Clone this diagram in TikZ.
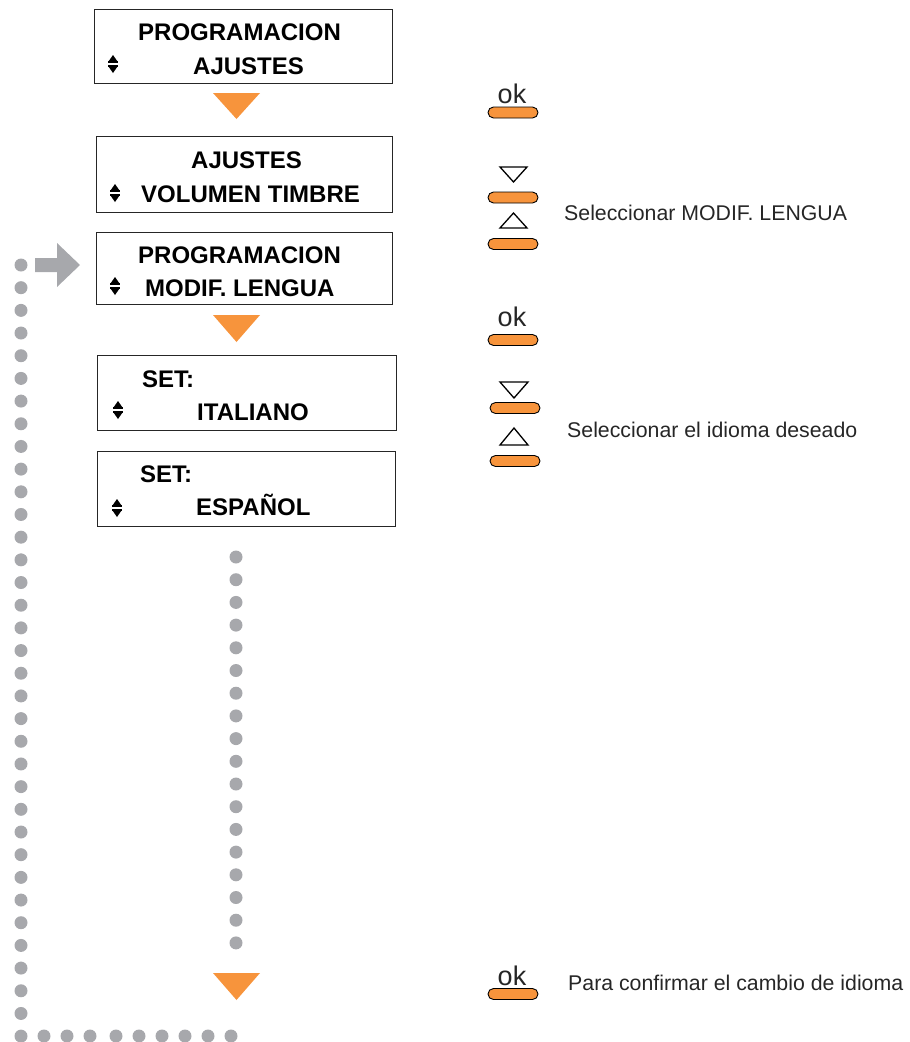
\documentclass[tikz,border=0pt]{standalone}
\usepackage{fontspec}
\setmainfont{Liberation Sans}
\usetikzlibrary{positioning}
\definecolor{keyorange}{RGB}{247,148,60}
\definecolor{dotgray}{RGB}{167,168,172}

\tikzset{
  updown/.pic={
    \fill (-4.6,-2.4) -- (4.6,-2.4) -- (0,-9) -- cycle;
    \fill (-5,-2.6) rectangle (5,-1);
    \fill (-5,1) rectangle (5,2.6);
    \fill (-4.6,2.4) -- (4.6,2.4) -- (0,9) -- cycle;
  }
}

\begin{document}
\begin{tikzpicture}[x=1pt,y=-1pt,
    lcd/.style={draw=black!85, line width=0.9pt, inner sep=0pt},
    lcdtxt/.style={font=\fontsize{24}{28}\selectfont\bfseries, anchor=base west, inner sep=0pt},
    note/.style={font=\fontsize{21.3}{25}\selectfont, anchor=base west, inner sep=0pt, text=black!85},
    oktxt/.style={font=\fontsize{27}{30}\selectfont, anchor=base, inner sep=0pt, text=black!85},
    key/.style={draw=black, line width=0.9pt, fill=keyorange, rounded corners=5.5pt,
                minimum width=50pt, minimum height=11pt, inner sep=0pt},
    arrowkey/.style={draw=black, line width=1.3pt, line join=miter}]
    \useasboundingbox (0,0) rectangle (910,1042);

    % Display screens
    \node[lcd, minimum width=298pt, minimum height=74pt] (prog) at (243,46) {};
    \node[lcd, minimum width=296pt, minimum height=76pt] (ajus) at (244,174) {};
    \node[lcd, minimum width=296pt, minimum height=72pt] (modif) at (244,268) {};
    \node[lcd, minimum width=299pt, minimum height=75pt] (ital) at (246.5,392.5) {};
    \node[lcd, minimum width=298pt, minimum height=75pt] (espa) at (246,488.5) {};

    % Screen texts
    \node[lcdtxt] (progA) at (138,40) {PROGRAMACION};
    \node[lcdtxt] (progB) at (193,74) {AJUSTES};
    \node[lcdtxt] (ajusA) at (191,168) {AJUSTES};
    \node[lcdtxt] (ajusB) at (141,202) {VOLUMEN TIMBRE};
    \node[lcdtxt] (modifA) at (138,263) {PROGRAMACION};
    \node[lcdtxt] (modifB) at (145,296) {MODIF. LENGUA};
    \node[lcdtxt] (italA) at (142,387) {SET:};
    \node[lcdtxt] (italB) at (197,420) {ITALIANO};
    \node[lcdtxt] (espaA) at (140,482) {SET:};
    \node[lcdtxt] (espaB) at (196,515) {ESPAÑOL};

    % Scroll marks
    \pic at (113,64) {updown};
    \pic at (115,193) {updown};
    \pic at (115,286) {updown};
    \pic at (118,410) {updown};
    \pic at (117,508) {updown};

    % Flow arrows
    \fill[keyorange] (213,93) -- (260,93) -- (236.5,119) -- cycle;
    \fill[keyorange] (213,315) -- (260,315) -- (236.5,342) -- cycle;
    \fill[keyorange] (213,973) -- (260,973) -- (236.5,1000) -- cycle;

    % Return path
    \foreach \k in {0,...,17}
        \fill[dotgray] (236,{557+\k*22.7}) circle (6.5);
    \foreach \k in {0,...,34}
        \fill[dotgray] (21,{265+\k*22.68}) circle (6.5);
    \foreach \x in {44,67,90,116,139,162,185,208,231}
        \fill[dotgray] (\x,1036) circle (6.5);
    \fill[dotgray] (35,258) -- (57,258) -- (57,243) -- (80,265) -- (57,287)
        -- (57,272) -- (35,272) -- cycle;

    % Keys: select
    \node[oktxt] (okA) at (512,103) {ok};
    \node[key] (keyA) at (513,112.5) {};
    \draw[arrowkey] (500,167) -- (527,167) -- (513.5,182) -- cycle;
    \node[key] (downA) at (513,197.5) {};
    \draw[arrowkey] (500,228) -- (527,228) -- (513.5,213) -- cycle;
    \node[key] (upA) at (513,244) {};
    \node[note] (selA) at (564,220) {Seleccionar MODIF. LENGUA};

    % Keys: language
    \node[oktxt] (okB) at (512,326) {ok};
    \node[key] (keyB) at (513,340) {};
    \draw[arrowkey] (500,382) -- (528,382) -- (514,398) -- cycle;
    \node[key] (downB) at (515,408) {};
    \draw[arrowkey] (500,445) -- (528,445) -- (514,428) -- cycle;
    \node[key] (upB) at (515,461) {};
    \node[note] (selB) at (567,437) {Seleccionar el idioma deseado};

    % Keys: confirm
    \node[oktxt] (okC) at (512,985) {ok};
    \node[key] (keyC) at (513,994) {};
    \node[note] (confirm) at (568,990) {Para confirmar el cambio de idioma};
\end{tikzpicture}
\end{document}
